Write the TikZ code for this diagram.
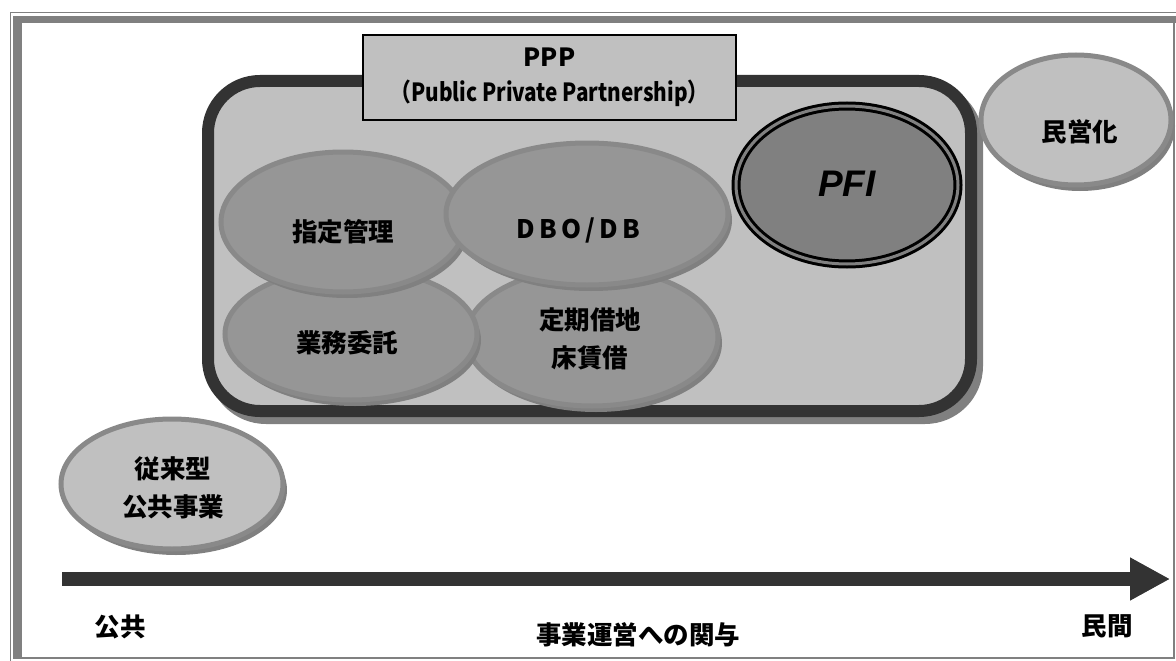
\documentclass[tikz,border=0pt]{standalone}
\usepackage{fontspec}
\newfontfamily\jp{Noto Sans CJK JP}
\newfontfamily\jpls{Noto Sans CJK JP}[LetterSpace=17]
\newfontfamily\lib{Liberation Sans}
\usetikzlibrary{shapes.geometric,shadows,arrows.meta}
\definecolor{framec}{HTML}{808080}
\definecolor{dk}{HTML}{333333}
\definecolor{pppfill}{HTML}{C0C0C0}
\definecolor{ovfill}{HTML}{969696}
\definecolor{ovline}{HTML}{898989}
\definecolor{shc}{HTML}{808080}
\definecolor{pfifill}{HTML}{808080}
\begin{document}
\begin{tikzpicture}[x=1pt,y=-1pt,
  oval/.style={ellipse, inner sep=0pt, draw=ovline, line width=5pt},
  darkoval/.style={oval, fill=ovfill},
  lightoval/.style={oval, fill=pppfill},
  sh/.style={drop shadow={shadow xshift=4pt, shadow yshift=-6pt, fill=shc, opacity=1}},
  jtext/.style={font=\jp\bfseries\fontsize{25.5}{38}\selectfont, align=center, inner sep=0pt},
  axis/.style={line width=14pt, -{Triangle[length=40pt,width=40pt]}}
]
\useasboundingbox (0,0) rectangle (1176,661);
% frame
\fill[white] (0,0) rectangle (1176,661);
\draw[framec, line width=1.5pt] (10.5,661) -- (10.5,12.5) -- (1176,12.5);
\fill[framec] (13,16) rectangle (22,659);
\fill[framec] (13,16) rectangle (1176,23);
\fill[framec] (1173,16) rectangle (1175,659);
\fill[framec] (13,657) rectangle (1175,659);

% PPP container
\draw[shc, line width=12pt, rounded corners=52pt] (214,88) rectangle (977,418);
\draw[dk, fill=pppfill, line width=12pt, rounded corners=52pt] (208,81) rectangle (971,411);

% ovals inside
\node[darkoval, sh, minimum width=252pt, minimum height=138pt] (teiki) at (592,337) {};
\node[darkoval, sh, minimum width=252pt, minimum height=132pt] (gyomu) at (351,334) {};
\node[darkoval, sh, minimum width=244pt, minimum height=140pt] (shitei) at (343,222) {};
\node[darkoval, sh, minimum width=282pt, minimum height=142pt] (dbo) at (587,214) {};
\node[ellipse, inner sep=0pt, fill=pfifill, draw=black, line width=3pt, double=shc, double distance=3pt, minimum width=222pt, minimum height=158pt] (pfi) at (847,185) {};

\node[jtext] (tshitei) at (343,232) {指定管理};
\node[jtext, font=\jpls\bfseries\fontsize{25.5}{38}\selectfont] (tdbo) at (578,230) {DBO/DB};
\node[jtext] (tgyomu) at (347,343) {業務委託};
\node[jtext] (tteiki) at (590,339) {定期借地\\床賃借};
\node[font=\lib\bfseries\itshape\fontsize{37}{40}\selectfont, inner sep=0pt] (tpfi) at (847,184) {PFI};

% PPP label
\node[draw=black, line width=2pt, fill=pppfill, minimum width=373pt, minimum height=85pt, inner sep=0pt,
      font=\jp\bfseries\fontsize{25}{35}\selectfont, align=center] (ppplabel) at (549.5,77.5)
      {PPP\\\scalebox{0.83}[1]{（Public Private Partnership）}};

% outside ovals
\node[lightoval, sh, minimum width=190pt, minimum height=130pt] (minei) at (1076,120) {};
\node[jtext] (tminei) at (1080,132) {民営化};
\node[lightoval, sh, minimum width=222pt, minimum height=130pt] (jurai) at (172,484) {};
\node[jtext] (tjurai) at (173,488) {従来型\\公共事業};

% axis
\coordinate (a0) at (62,579);
\coordinate (a1) at (1170,579);
\draw[axis, shc, shift={(5,6)}] (a0) -- (a1);
\draw[axis, dk] (a0) -- (a1);

\node[jtext] (kokyo) at (120,627) {公共};
\node[jtext] (minkan) at (1107,626) {民間};
\node[jtext] (kanyo) at (638,635) {事業運営への関与};
\end{tikzpicture}
\end{document}
